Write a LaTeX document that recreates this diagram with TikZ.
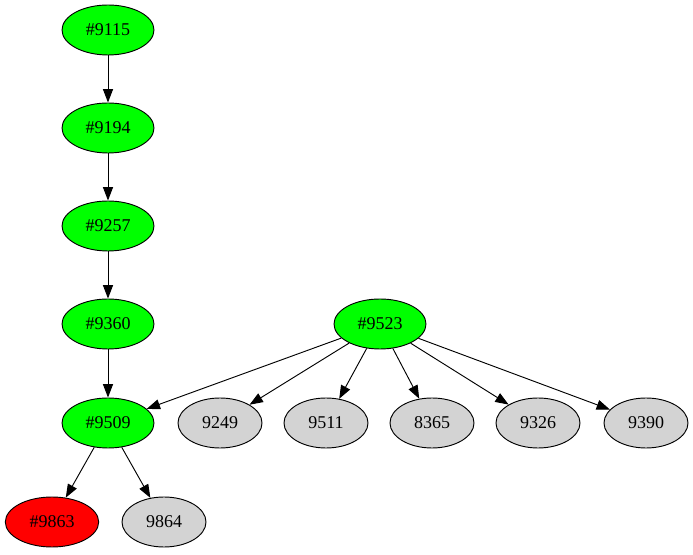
\documentclass[tikz,border=0pt]{standalone}
\usepackage{fontspec}
\setmainfont{Liberation Serif}
\usetikzlibrary{shapes.geometric,arrows.meta}
\definecolor{lightgray}{HTML}{D3D3D3}
\tikzset{
  pnode/.style={ellipse,draw,line width=0.7pt,inner sep=0pt,minimum height=37.5pt,font=\fontsize{13.5}{15}\selectfont},
  gnode/.style={pnode,fill=green,minimum width=69pt},
  rnode/.style={pnode,fill=red,minimum width=70pt},
  lnode/.style={pnode,fill=lightgray,minimum width=63pt},
}
\begin{document}
\begin{tikzpicture}[x=0.75pt,y=-0.75pt,>={Triangle[length=10pt,width=7.5pt]},line width=0.7pt]
\useasboundingbox (0,0) rectangle (693,555);
% chain on the left
\node[gnode] (n9115) at (108,30) {\#9115};
\node[gnode] (n9194) at (108,128) {\#9194};
\node[gnode] (n9257) at (108,226) {\#9257};
\node[gnode] (n9360) at (108,324) {\#9360};
\node[gnode] (n9509) at (108,423) {\#9509};
\node[gnode] (n9523) at (380,324) {\#9523};
% bottom row
\node[rnode] (n9863) at (52,522) {\#9863};
\node[lnode] (n9864) at (164,522) {9864};
\node[lnode] (n9249) at (220,423) {9249};
\node[lnode] (n9511) at (326,423) {9511};
\node[lnode] (n8365) at (432,423) {8365};
\node[lnode] (n9326) at (538,423) {9326};
\node[lnode] (n9390) at (646,423) {9390};
\foreach \A/\B in {n9115/n9194,n9194/n9257,n9257/n9360,n9360/n9509,n9509/n9863,n9509/n9864}{\draw[->] (\A) -- (\B);}
\foreach \B in {n9509,n9249,n9511,n8365,n9326,n9390}{\draw[->] (n9523) -- (\B);}
\end{tikzpicture}
\end{document}
